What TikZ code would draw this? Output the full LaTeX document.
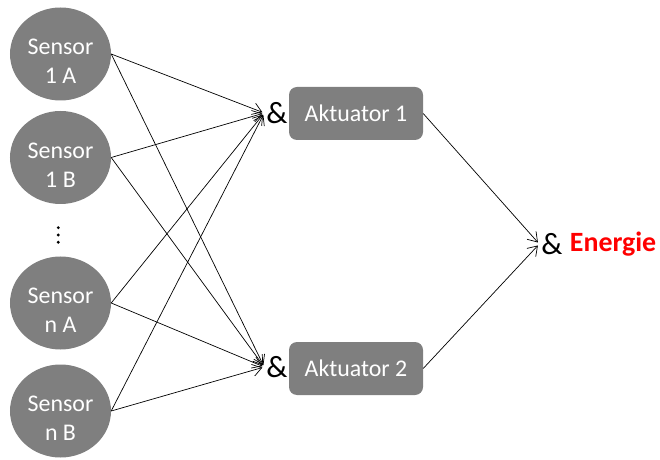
\documentclass[tikz,border=0pt]{standalone}
\usepackage{fontspec}
\setmainfont{Carlito}
\usepackage{xcolor}
\usetikzlibrary{arrows.meta,positioning,shapes.geometric}

\definecolor{boxgrau}{HTML}{7F7F7F}
\definecolor{energierot}{HTML}{FF0000}

\tikzset{
  sensor/.style={ellipse, fill=boxgrau, minimum width=101bp, minimum height=93bp, inner sep=0pt},
  sensortext/.style={text=white, align=center, inner sep=0pt, font=\fontsize{24}{29}\selectfont},
  aktuator/.style={fill=boxgrau, rounded corners=8bp, minimum width=134bp, minimum height=53bp, text=white, font=\fontsize{24}{29}\selectfont},
  und/.style={inner sep=2bp, font=\fontsize{31}{34}\selectfont},
  pfeil/.style={-{Straight Barb[length=9bp,width=12bp]}, line width=0.7bp, shorten >=2bp}
}

\begin{document}
\begin{tikzpicture}[x=1bp,y=-1bp]
\useasboundingbox (0,0) rectangle (660,460);

\node[sensor] (s1a) at (60.5,54) {};
\node[sensor] (s1b) at (60.5,157.5) {};
\node[sensor] (sna) at (60.5,303) {};
\node[sensor] (snb) at (60.5,411) {};

\node[sensortext] (t1a) at (60.5,61.5) {Sensor\\1 A};
\node[sensortext] (t1b) at (60.5,165) {Sensor\\1 B};
\node[sensortext] (tna) at (60.5,310.5) {Sensor\\n A};
\node[sensortext] (tnb) at (60.5,418.5) {Sensor\\n B};

\fill (58.3,227.7) circle (1.6);
\fill (58.3,235) circle (1.6);
\fill (58.3,242.3) circle (1.6);

\node[aktuator] (a1) at (356,113.5) {Aktuator 1};
\node[aktuator] (a2) at (356,368.5) {Aktuator 2};

\node[und] (und1) at (277,113) {\&};
\node[und] (und2) at (277,367) {\&};
\node[und] (und3) at (552,244) {\&};
\node[inner sep=2bp, right=3bp of und3, text=energierot, font=\fontsize{28}{32}\selectfont\bfseries] (energie) {Energie};

\draw[pfeil] (s1a.east) -- (und1.west);
\draw[pfeil] (s1a.east) -- (und2.west);
\draw[pfeil] (s1b.east) -- (und1.west);
\draw[pfeil] (s1b.east) -- (und2.west);
\draw[pfeil] (sna.east) -- (und1.west);
\draw[pfeil] (sna.east) -- (und2.west);
\draw[pfeil] (snb.east) -- (und1.west);
\draw[pfeil] (snb.east) -- (und2.west);

\draw[pfeil] (a1.east) -- (und3.west);
\draw[pfeil] (a2.east) -- (und3.west);

\end{tikzpicture}
\end{document}
